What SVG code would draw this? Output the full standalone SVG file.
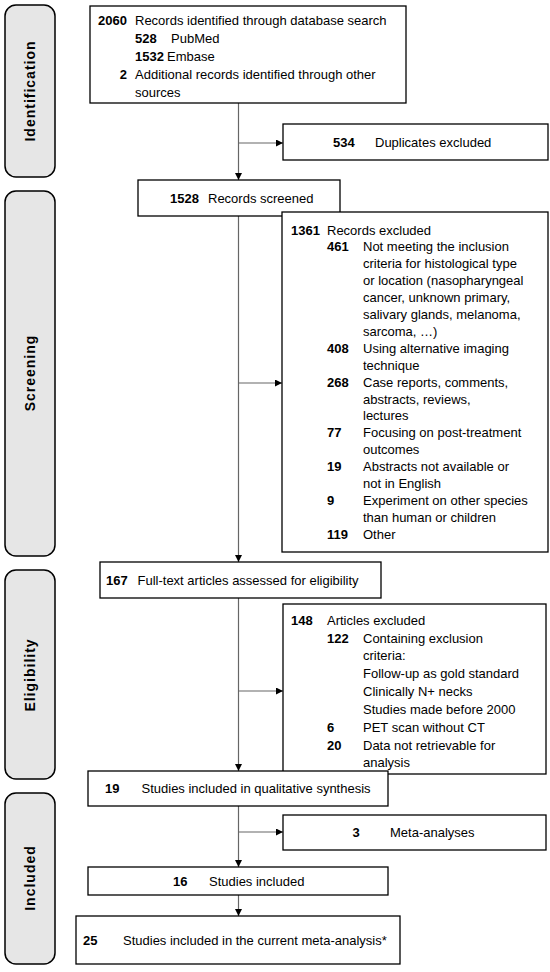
<svg xmlns="http://www.w3.org/2000/svg" width="550" height="972" viewBox="0 0 550 972">
<style>
text{font-family:"Liberation Sans",Arial,sans-serif;font-size:13px;fill:#000}
.b{font-weight:bold}
.box{fill:#fff;stroke:#000;stroke-width:1.3}
.bar{fill:#e6e6e6;stroke:#000;stroke-width:1.5}
.lbl{font-weight:bold;font-size:14px;letter-spacing:1px;text-anchor:middle}
.ln{stroke:#666;stroke-width:1.2;fill:none}
</style>
<defs>
<marker id="ah" viewBox="0 0 10 10" refX="10" refY="5" markerWidth="7" markerHeight="7" markerUnits="userSpaceOnUse" orient="auto">
<path d="M0,0 L10,5 L0,10 z" fill="#000"/>
</marker>
</defs>
<rect width="550" height="972" fill="#fff"/>

<g id="phase-identification"><rect class="bar" x="5" y="5" width="50" height="172" rx="11"/><text class="lbl" transform="translate(35,91) rotate(-90)">Identification</text></g>
<g id="phase-screening"><rect class="bar" x="5" y="191" width="50" height="365" rx="11"/><text class="lbl" transform="translate(35,373) rotate(-90)">Screening</text></g>
<g id="phase-eligibility"><rect class="bar" x="5" y="570" width="50" height="209" rx="11"/><text class="lbl" transform="translate(35,675) rotate(-90)">Eligibility</text></g>
<g id="phase-included"><rect class="bar" x="5" y="793" width="50" height="171" rx="11"/><text class="lbl" transform="translate(35,878) rotate(-90)">Included</text></g>

<g id="connectors">
<line class="ln" x1="238.5" y1="103" x2="238.5" y2="180" marker-end="url(#ah)"/>
<line class="ln" x1="238.5" y1="143" x2="283" y2="143" marker-end="url(#ah)"/>
<line class="ln" x1="238.5" y1="216" x2="238.5" y2="562" marker-end="url(#ah)"/>
<line class="ln" x1="238.5" y1="383" x2="282" y2="383" marker-end="url(#ah)"/>
<line class="ln" x1="238.5" y1="598" x2="238.5" y2="771" marker-end="url(#ah)"/>
<line class="ln" x1="238.5" y1="691" x2="283" y2="691" marker-end="url(#ah)"/>
<line class="ln" x1="238.5" y1="806" x2="238.5" y2="867" marker-end="url(#ah)"/>
<line class="ln" x1="238.5" y1="832" x2="283" y2="832" marker-end="url(#ah)"/>
<line class="ln" x1="238.5" y1="895" x2="238.5" y2="916" marker-end="url(#ah)"/>
</g>

<g id="records-identified">
<rect class="box" x="90" y="6" width="316" height="97"/>
<text class="b" x="98" y="24.5">2060</text><text x="135" y="24.5">Records identified through database search</text>
<text class="b" x="135" y="43">528</text><text x="171" y="43">PubMed</text>
<text class="b" x="135" y="60.5">1532</text><text x="167" y="60.5">Embase</text>
<text class="b" x="127" y="78.5" text-anchor="end">2</text><text x="135" y="78.5">Additional records identified through other</text>
<text x="135" y="96.5">sources</text>
</g>

<g id="duplicates-excluded">
<rect class="box" x="283" y="124" width="265" height="36"/>
<text class="b" x="333" y="147">534</text><text x="375" y="147">Duplicates excluded</text>
</g>

<g id="records-screened">
<rect class="box" x="138" y="180" width="202" height="36"/>
<text class="b" x="170" y="202.5">1528</text><text x="208" y="202.5">Records screened</text>
</g>

<g id="records-excluded">
<rect class="box" x="282" y="212" width="266" height="340"/>
<text class="b" x="291" y="234.5">1361</text><text x="327" y="234.5">Records excluded</text>
<text class="b" x="327" y="251.4">461</text><text x="363" y="251.4">Not meeting the inclusion</text>
<text x="363" y="268.3">criteria for histological type</text>
<text x="363" y="285.2">or location (nasopharyngeal</text>
<text x="363" y="302.1">cancer, unknown primary,</text>
<text x="363" y="319">salivary glands, melanoma,</text>
<text x="363" y="335.9">sarcoma, …)</text>
<text class="b" x="327" y="352.8">408</text><text x="363" y="352.8">Using alternative imaging</text>
<text x="363" y="369.7">technique</text>
<text class="b" x="327" y="386.6">268</text><text x="363" y="386.6">Case reports, comments,</text>
<text x="363" y="403.5">abstracts, reviews,</text>
<text x="363" y="420.4">lectures</text>
<text class="b" x="327" y="437.3">77</text><text x="363" y="437.3">Focusing on post-treatment</text>
<text x="363" y="454.2">outcomes</text>
<text class="b" x="327" y="471.1">19</text><text x="363" y="471.1">Abstracts not available or</text>
<text x="363" y="488">not in English</text>
<text class="b" x="327" y="504.9">9</text><text x="363" y="504.9">Experiment on other species</text>
<text x="363" y="521.8">than human or children</text>
<text class="b" x="327" y="538.7">119</text><text x="363" y="538.7">Other</text>
</g>

<g id="full-text-assessed">
<rect class="box" x="100" y="562" width="281" height="36"/>
<text class="b" x="106" y="585">167</text><text x="137.5" y="585">Full-text articles assessed for eligibility</text>
</g>

<g id="articles-excluded">
<rect class="box" x="283" y="604" width="263" height="170"/>
<text class="b" x="291" y="624.5">148</text><text x="327" y="624.5">Articles excluded</text>
<text class="b" x="327" y="642.5">122</text><text x="363" y="642.5">Containing exclusion</text>
<text x="363" y="660.3">criteria:</text>
<text x="363" y="678">Follow-up as gold standard</text>
<text x="363" y="696">Clinically N+ necks</text>
<text x="363" y="714">Studies made before 2000</text>
<text class="b" x="327" y="732">6</text><text x="363" y="732">PET scan without CT</text>
<text class="b" x="327" y="749.5">20</text><text x="363" y="749.5">Data not retrievable for</text>
<text x="363" y="767">analysis</text>
</g>

<g id="qualitative-synthesis">
<rect class="box" x="88" y="771" width="300" height="35"/>
<text class="b" x="105" y="793">19</text><text x="141.5" y="793">Studies included in qualitative synthesis</text>
</g>

<g id="meta-analyses">
<rect class="box" x="283" y="815" width="263" height="35"/>
<text class="b" x="352.5" y="837">3</text><text x="390" y="837">Meta-analyses</text>
</g>

<g id="studies-included">
<rect class="box" x="88" y="867" width="300" height="28"/>
<text class="b" x="173" y="885.5">16</text><text x="209" y="885.5">Studies included</text>
</g>

<g id="current-meta-analysis">
<rect class="box" x="76" y="916" width="324" height="48"/>
<text class="b" x="83" y="944.5">25</text><text x="123" y="944.5">Studies included in the current meta-analysis*</text>
</g>
</svg>
